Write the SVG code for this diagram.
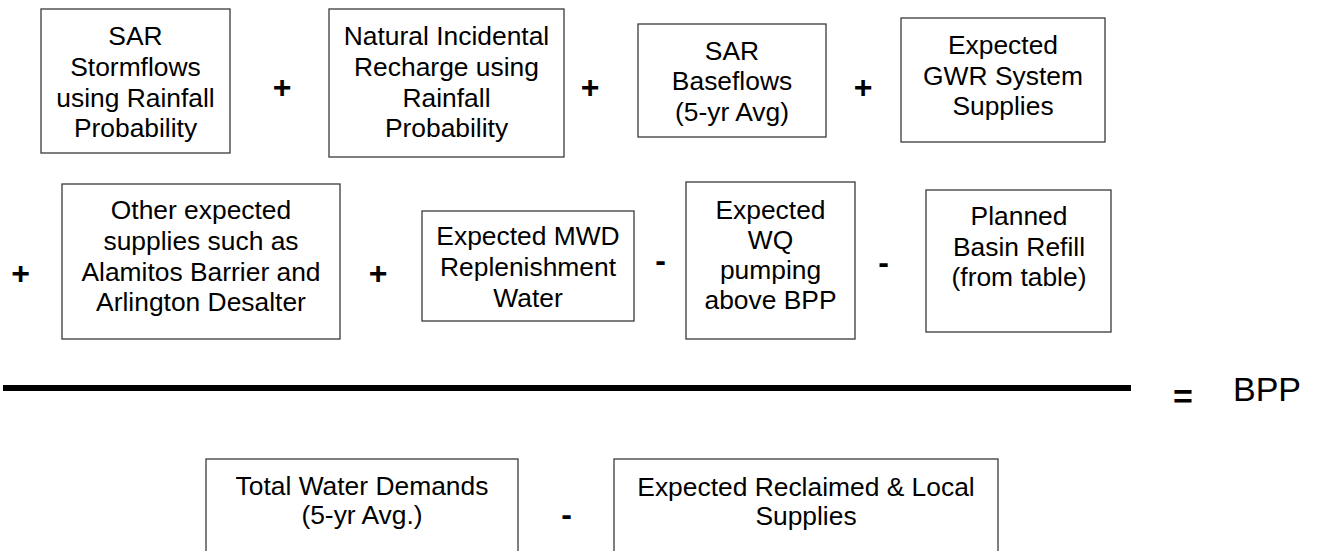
<svg xmlns="http://www.w3.org/2000/svg" width="1317" height="551" viewBox="0 0 1317 551">
<style>
.box{fill:#fff;stroke:#3a3a3a;stroke-width:1.3}
.t{font-family:"Liberation Sans",Arial,sans-serif;font-size:26.4px;fill:#000;text-anchor:middle}
.op{font-family:"Liberation Sans",Arial,sans-serif;font-size:32px;font-weight:bold;fill:#000;text-anchor:middle}
.res{font-family:"Liberation Sans",Arial,sans-serif;font-size:34px;fill:#000}
</style>
<rect x="0" y="0" width="1317" height="551" fill="#fff"/>
<g id="n1"><rect class="box" x="41" y="9" width="189" height="144"/>
<text class="t" x="135.5" y="45">SAR</text><text class="t" x="135.5" y="76">Stormflows</text><text class="t" x="135.5" y="106.5">using Rainfall</text><text class="t" x="135.5" y="137">Probability</text></g>
<g id="n2"><rect class="box" x="329" y="9" width="235" height="148"/>
<text class="t" x="446.5" y="45">Natural Incidental</text><text class="t" x="446.5" y="76">Recharge using</text><text class="t" x="446.5" y="106.5">Rainfall</text><text class="t" x="446.5" y="137">Probability</text></g>
<g id="n3"><rect class="box" x="638" y="24" width="188" height="113"/>
<text class="t" x="732" y="60">SAR</text><text class="t" x="732" y="90">Baseflows</text><text class="t" x="732" y="120.5">(5-yr Avg)</text></g>
<g id="n4"><rect class="box" x="901" y="18" width="204" height="124"/>
<text class="t" x="1003" y="53.5">Expected</text><text class="t" x="1003" y="84.5">GWR System</text><text class="t" x="1003" y="115">Supplies</text></g>
<g id="n5"><rect class="box" x="62" y="184" width="278" height="155"/>
<text class="t" x="201" y="219">Other expected</text><text class="t" x="201" y="250">supplies such as</text><text class="t" x="201" y="280.5">Alamitos Barrier and</text><text class="t" x="201" y="311">Arlington Desalter</text></g>
<g id="n6"><rect class="box" x="422" y="211" width="212" height="110"/>
<text class="t" x="528" y="245">Expected MWD</text><text class="t" x="528" y="276">Replenishment</text><text class="t" x="528" y="307">Water</text></g>
<g id="n7"><rect class="box" x="686" y="182" width="169" height="157"/>
<text class="t" x="770.5" y="218.5">Expected</text><text class="t" x="770.5" y="248.5">WQ</text><text class="t" x="770.5" y="278.5">pumping</text><text class="t" x="770.5" y="308.5">above BPP</text></g>
<g id="n8"><rect class="box" x="926" y="190" width="185" height="142"/>
<text class="t" x="1019" y="225">Planned</text><text class="t" x="1019" y="255.5">Basin Refill</text><text class="t" x="1019" y="286">(from table)</text></g>
<g id="n9"><rect class="box" x="206" y="459" width="312" height="120"/>
<text class="t" x="362" y="495">Total Water Demands</text><text class="t" x="362" y="524">(5-yr Avg.)</text></g>
<g id="n10"><rect class="box" x="614" y="459" width="384" height="120"/>
<text class="t" x="806" y="495.5">Expected Reclaimed &amp; Local</text><text class="t" x="806" y="525">Supplies</text></g>
<g id="connectors">
<rect x="3" y="385" width="1128" height="6" fill="#000"/>
<text class="op" x="282" y="97.5">+</text>
<text class="op" x="590" y="97.5">+</text>
<text class="op" x="863" y="97.5">+</text>
<text class="op" x="20.7" y="283.5">+</text>
<text class="op" x="378" y="283.5">+</text>
<text class="op" x="660.7" y="271">-</text>
<text class="op" x="883.7" y="273">-</text>
<text class="op" x="566.7" y="524.5">-</text>
<text class="op" x="1183" y="408" style="font-size:34px">=</text>
<text class="res" x="1233" y="401">BPP</text>
</g>
</svg>
